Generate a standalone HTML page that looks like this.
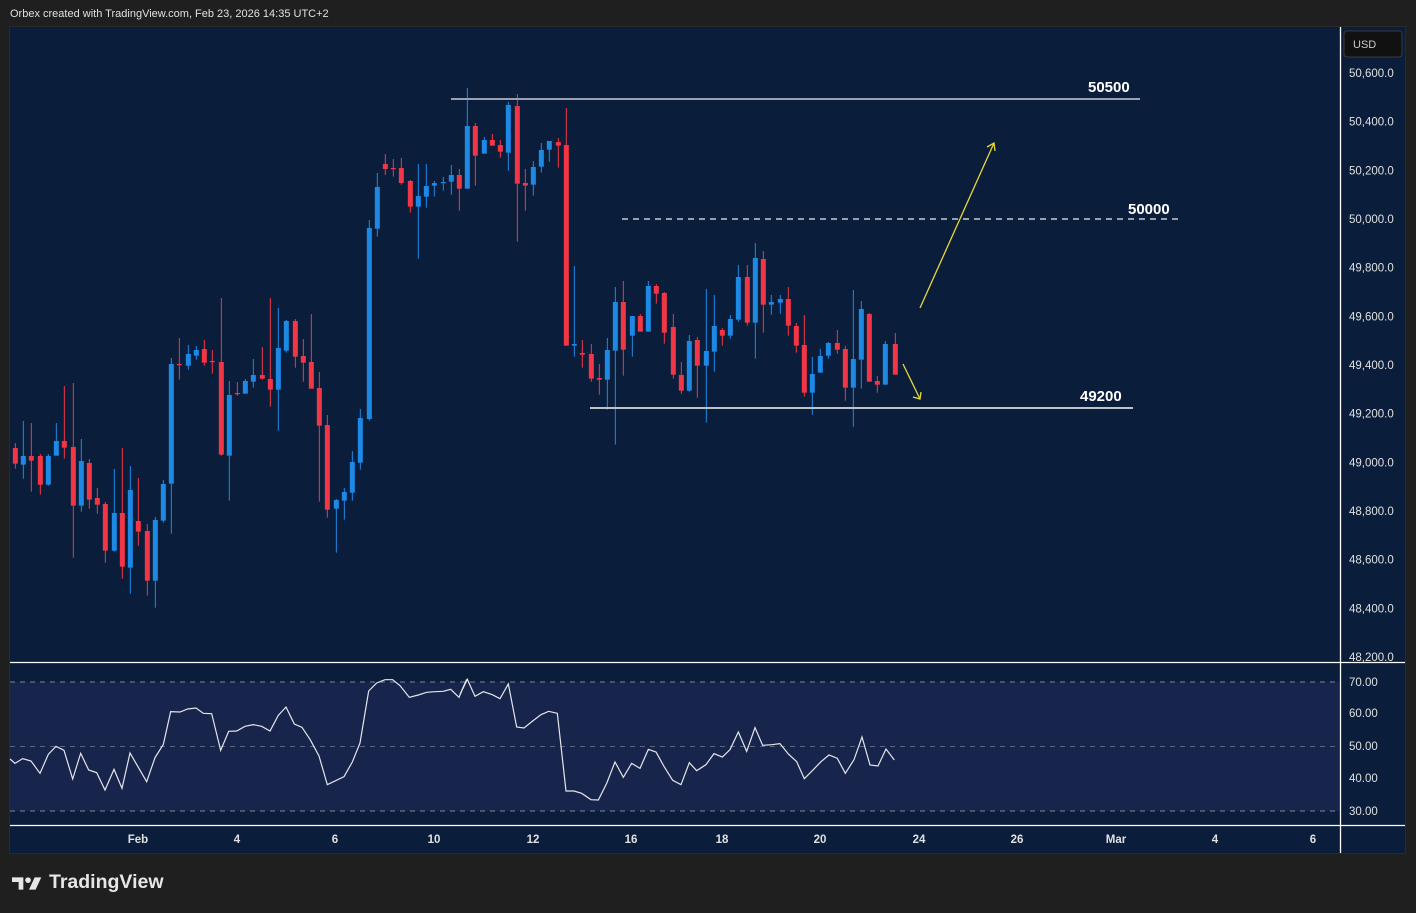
<!DOCTYPE html>
<html><head><meta charset="utf-8">
<style>
html,body{margin:0;padding:0;width:1416px;height:913px;background:#1f1f1f;overflow:hidden;font-family:"Liberation Sans",sans-serif}
#hdr{position:absolute;left:10px;top:8px;font-size:11px;color:#e0e0e0}
#tv{position:absolute;left:12px;top:871px;font-size:19.5px;font-weight:bold;color:#e6e6e6;display:flex;align-items:center}
svg{position:absolute;left:0;top:0}
</style></head><body>
<div id="hdr">Orbex created with TradingView.com, Feb 23, 2026 14:35 UTC+2</div>
<div id="tv"><svg width="34" height="18" style="position:static;margin-right:3px" viewBox="0 0 36 18"><path d="M0 3h12v13H7V8H0z" fill="#e6e6e6"/><circle cx="17" cy="6" r="3" fill="#e6e6e6"/><path d="M24 3h7l-6 13h-7z" fill="#e6e6e6"/></svg>TradingView</div>
<svg id="s" width="1416" height="913" xmlns="http://www.w3.org/2000/svg">
<rect x="9" y="26" width="1397" height="828" fill="#2a2a2a"/>
<rect x="10" y="27" width="1395" height="826" fill="#0a1e3b"/>
<rect x="10" y="682" width="1331" height="129" fill="#17244b"/>
<line x1="10" y1="682" x2="1341" y2="682" stroke="#7d8597" stroke-dasharray="5,5"/>
<line x1="10" y1="746.5" x2="1341" y2="746.5" stroke="#5d6680" stroke-dasharray="5,5"/>
<line x1="10" y1="811" x2="1341" y2="811" stroke="#7d8597" stroke-dasharray="5,5"/>
<line x1="10" y1="662.5" x2="1405" y2="662.5" stroke="#fff" stroke-width="1.3"/>
<line x1="10" y1="825.5" x2="1405" y2="825.5" stroke="#fff" stroke-width="1.3"/>
<line x1="1340.5" y1="27" x2="1340.5" y2="853" stroke="#fff" stroke-width="1.3"/>
<rect x="1344" y="31" width="58" height="26" rx="3" fill="#111" stroke="#3a3a3a"/>
<text x="1353" y="48" fill="#ccc" font-size="11">USD</text>
<g id="c"></g>
<line x1="451" y1="99" x2="1140" y2="99" stroke="#9aa0ad" stroke-width="2"/>
<line x1="622" y1="219" x2="1180" y2="219" stroke="#c8cbd2" stroke-width="1.5" stroke-dasharray="6,5"/>
<line x1="590" y1="408" x2="1133" y2="408" stroke="#c0c3ca" stroke-width="2"/>
<g font-size="15" font-weight="bold" fill="#fff">
<text x="1088" y="92">50500</text><text x="1128" y="214">50000</text><text x="1080" y="401">49200</text></g>
<g stroke="#e8d83a" stroke-width="1.3" fill="none">
<line x1="920" y1="308" x2="994" y2="143"/><polyline points="987,147 994,143 995,151"/>
<line x1="903" y1="364" x2="920" y2="399"/><polyline points="913,397 920,399 921,392"/></g>
<polyline id="rsi" fill="none" stroke="#e6e6ea" stroke-width="1.2"/>
<g id="ax" font-size="11.5" fill="#e0e0e0"></g>
<g font-size="11.5" font-weight="bold" fill="#e0e0e0" text-anchor="middle">
<text x="138" y="843">Feb</text><text x="237" y="843">4</text><text x="335" y="843">6</text><text x="434" y="843">10</text><text x="533" y="843">12</text><text x="631" y="843">16</text><text x="722" y="843">18</text><text x="820" y="843">20</text><text x="919" y="843">24</text><text x="1017" y="843">26</text><text x="1116" y="843">Mar</text><text x="1215" y="843">4</text><text x="1313" y="843">6</text></g>
</svg>
<script>
var NS="http://www.w3.org/2000/svg",g=document.getElementById('c');
function el(n,a,p){var e=document.createElementNS(NS,n);for(var k in a)e.setAttribute(k,a[k]);(p||g).appendChild(e);return e;}
var z1="46R504,551,489,566;70B528,554,423,596;94R528,542,429,635;121R528,614,522,644;145B528,614,522,617;169B483,527,429,527;193R483,503,318,536;220R501,677,309,833;244B543,677,477,695;268R549,659,537,686;292R654,674,624,701;316R672,812,666,848;343B699,812,567,815;367R699,860,504,896;391B630,863,558,941;415R723,755,594,797;442R753,902,732,947;466B720,902,711,983;490B612,722,600,728;514B252,611,234,761;538R252,254,174,299;565B222,257,195,269;589B210,227,198,239;613R207,248,180,257;637R243,245,210,281;664R246,524,54,527;688B345,527,303,662;712R339,341,306,347;736B303,341,297,341;760B285,305,237,323;787R285,296,201,299;811R297,329,54,380;835B204,329,84,452;859B123,212,120,218;886R123,230,117,263;910R228,248,177,305;934R246,326,102,326;958R324,437,276,665;982R435,689,405,713;1009B660,686,657,818;1033B636,662,624,719;1057B546,638,513,662;1081B414,548,387,569";
var z2="88B444,1017,420,1022;112B321,446,279,470;136R252,267,222,285;160R264,266,237,290;184R264,309,234,314;211R303,380,300,398;235B348,380,252,536;259B318,350,252,383;283B309,317,303,350;310B306,308,291,332;334B285,305,255,344;358R285,326,267,392;382B138,326,24,326;406R138,227,129,317;433B180,221,171,221;457R180,197,162,197;481R195,215,180,233;505B75,218,66,272;532R78,311,42,485;556R309,317,267,392;580B261,314,243,347;604B210,260,189,278;628B183,209,183,245;655R186,197,174,263;679R195,797,84,797;703B792,797,558,830;727R819,824,780,863;754R822,896,792,905;778R894,899,852,944;802B810,899,774,989;826B666,812,621,1094;850R666,809,603,887";
var z3="157B228,287,228,350;181R228,275,222,275;205B138,275,123,275;229R138,161,132,191;253R159,278,156,311;280R261,404,222,416;304R405,452,366,461;328B303,452,285,455;352R300,377,291,473;379B333,377,147,548;403B258,335,165,395;427R270,287,264,317;451B237,287,225,296;475B111,239,75,245;502R111,248,75,257;526B54,248,9,356;550R57,194,33,278;574B186,194,165,224;601B177,188,165,221;625R177,257,141,287;649R258,317,249,338;673R315,458,225,470;697B402,458,351,524;721B348,398,327,398;745B309,347,306,356;772R309,329,270,341;796R327,443,318,482;820B357,443,150,560;844B207,359,183,446;868R222,425,219,425;892R423,434,408,458;916B312,434,303,434;946R312,404,279,404";
function draw(s,ox,oy){s.split(';').forEach(function(c){var m=c.match(/^(\d+)([RB])(.*)$/);var x=ox+(+m[1])/3,col=m[2]=='R'?'#f23645':'#1e88e5';var v=m[3].split(',').map(function(t){return oy+(+t)/3;});
el('line',{x1:x,x2:x,y1:v[2],y2:v[3],stroke:col,'stroke-width':1});var h=Math.max(v[1]-v[0],1.2);el('rect',{x:x-2.5,y:v[0],width:5,height:h,fill:col});});}
draw(z1,0,280);draw(z2,340,80);draw(z3,580,240);
var r1=[[30,312],[45,325],[68,311],[93,318],[120,355],[145,298],[168,274],[192,286],[218,372],[242,295],[266,345],[290,353],[315,405],[342,343],[366,400],[390,294],[440,380],[465,308],[490,268],[512,170],[540,171],[563,162],[588,159],[610,175],[635,176],[662,286],[686,229],[710,228],[735,214],[760,209],[785,214],[810,228],[835,181],[858,156],[883,207],[906,217],[930,253],[957,303],[982,389],[1032,365],[1057,321],[1080,264],[1106,108],[1130,84],[1155,74],[1178,74],[1200,92],[1228,127],[1255,120],[1280,112],[1305,110],[1330,109],[1352,103],[1377,127],[1400,73]];
var r2=[[0,118],[22,73],[45,124],[70,110],[97,119],[120,131],[145,87],[170,216],[192,219],[218,198],[243,179],[266,169],[292,175],[318,408],[342,408],[365,415],[393,434],[415,435],[440,385],[465,321],[490,367],[515,325],[540,340],[565,283],[588,291],[613,336],[638,376],[663,389],[688,323],[710,347],[738,329],[762,296],[787,306],[810,284],[835,231],[860,289],[885,218],[908,271],[935,269],[960,266],[985,297],[1010,320],[1033,371],[1058,346],[1083,320],[1107,300],[1132,310],[1156,355],[1182,314],[1206,246],[1230,330],[1254,333],[1278,282],[1303,315]];
var pts=r1.map(function(p){return (p[0]/3)+','+(655+p[1]/3);}).concat(r2.map(function(p){return (460+p[0]/3)+','+(655+p[1]/3);}));
document.getElementById('rsi').setAttribute('points',pts.join(' '));
var ax=document.getElementById('ax');
for(var i=0;i<=12;i++){var p=50600-200*i;var y=73+i*48.67;var t=el('text',{x:1349,y:y+4},ax);t.textContent=p.toLocaleString('en-US')+'.0';}
[[70,682],[60,713],[50,746],[40,778],[30,811]].forEach(function(a){var t=el('text',{x:1349,y:a[1]+4},ax);t.textContent=a[0]+'.00';});
</script>
</body></html>
